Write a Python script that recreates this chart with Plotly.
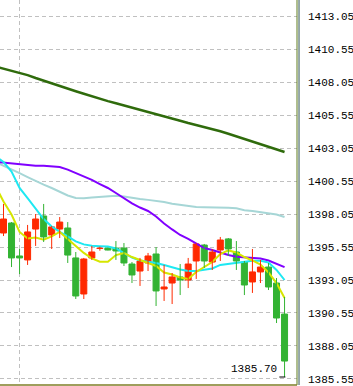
import plotly.graph_objects as go

# ---- data ----
bar_index = list(range(36))
opens = [1396.61, 1397.37, 1394.87, 1394.57, 1396.91, 1397.90, 1396.46, 1396.91, 1396.99, 1394.72,
         1391.99, 1394.72, 1395.44, 1395.47, 1395.47, 1395.47, 1394.26, 1393.73, 1394.34, 1395.02,
         1392.37, 1392.82, 1393.28, 1393.05, 1394.49, 1395.70, 1394.41, 1395.32, 1396.16, 1395.17,
         1394.41, 1392.90, 1393.66, 1394.03, 1392.82, 1390.47]
highs = [1398.81, 1397.44, 1395.40, 1397.22, 1398.05, 1398.81, 1397.14, 1397.82, 1397.44, 1395.17,
         1394.72, 1395.63, 1395.57, 1395.50, 1396.00, 1395.85, 1394.41, 1394.72, 1395.10, 1395.55,
         1394.19, 1393.58, 1394.26, 1394.72, 1395.85, 1395.78, 1395.40, 1396.31, 1396.23, 1396.00,
         1394.49, 1395.40, 1394.57, 1394.34, 1393.20, 1391.76]
lows = [1396.38, 1394.03, 1393.50, 1394.19, 1395.63, 1395.93, 1395.40, 1396.23, 1394.34, 1391.61,
        1391.61, 1394.57, 1395.27, 1395.30, 1394.57, 1394.11, 1392.82, 1392.60, 1393.73, 1391.08,
        1391.46, 1391.23, 1391.91, 1392.44, 1393.13, 1393.96, 1393.81, 1394.49, 1394.87, 1393.81,
        1391.91, 1392.07, 1392.82, 1392.29, 1389.79, 1385.70]
closes = [1397.67, 1394.72, 1394.72, 1396.69, 1397.67, 1396.31, 1397.07, 1397.44, 1394.94, 1391.84,
          1394.64, 1395.17, 1395.47, 1395.32, 1395.25, 1394.34, 1393.43, 1394.49, 1394.87, 1392.22,
          1392.52, 1393.28, 1393.05, 1394.26, 1395.78, 1394.49, 1395.17, 1396.08, 1395.40, 1394.49,
          1392.67, 1393.66, 1394.03, 1392.52, 1390.17, 1386.91]

ma_index = list(range(-1, 36))
ma_dark_green = [1409.22, 1409.07, 1408.91, 1408.76, 1408.57, 1408.35, 1408.14, 1407.94, 1407.74, 1407.54,
                 1407.35, 1407.16, 1406.96, 1406.76, 1406.60, 1406.44, 1406.28, 1406.11, 1405.94, 1405.78,
                 1405.61, 1405.45, 1405.29, 1405.11, 1404.94, 1404.79, 1404.64, 1404.49, 1404.32, 1404.13,
                 1403.93, 1403.73, 1403.54, 1403.35, 1403.15, 1402.96, 1402.75]
ma_purple = [1402.00, 1401.94, 1401.88, 1401.82, 1401.73, 1401.71, 1401.70, 1401.67, 1401.61, 1401.41,
             1401.16, 1400.88, 1400.63, 1400.32, 1400.02, 1399.64, 1399.22, 1398.85, 1398.54, 1398.28,
             1397.86, 1397.33, 1396.88, 1396.46, 1396.16, 1395.79, 1395.47, 1395.32, 1395.13, 1394.94,
             1394.81, 1394.75, 1394.74, 1394.68, 1394.53, 1394.30, 1394.03]
ma_pale = [1401.99, 1401.69, 1401.38, 1401.14, 1400.85, 1400.53, 1400.27, 1400.02, 1399.75, 1399.45,
           1399.26, 1399.24, 1399.30, 1399.36, 1399.41, 1399.43, 1399.38, 1399.26, 1399.19, 1399.12,
           1399.05, 1398.96, 1398.82, 1398.73, 1398.66, 1398.58, 1398.56, 1398.56, 1398.55, 1398.52,
           1398.48, 1398.34, 1398.28, 1398.20, 1398.13, 1398.01, 1397.82]
ma_cyan = [1402.44, 1401.99, 1401.27, 1400.02, 1399.26, 1398.47, 1397.67, 1397.10, 1396.69, 1396.35,
           1395.97, 1395.75, 1395.64, 1395.61, 1395.59, 1395.44, 1395.10, 1394.75, 1394.53, 1394.44,
           1394.34, 1394.19, 1394.00, 1393.85, 1393.73, 1393.73, 1393.82, 1393.92, 1394.19, 1394.28,
           1394.38, 1394.47, 1394.51, 1394.50, 1394.38, 1393.81, 1393.05]
ma_yellow = [1400.17, 1399.00, 1398.01, 1396.69, 1396.19, 1396.27, 1396.10, 1396.35, 1396.69, 1396.19,
             1395.63, 1395.10, 1394.68, 1394.44, 1394.44, 1394.94, 1395.10, 1394.79, 1394.57, 1394.38,
             1394.11, 1393.62, 1393.47, 1393.24, 1393.13, 1393.66, 1394.03, 1394.41, 1395.02, 1395.29,
             1395.13, 1394.79, 1394.53, 1394.22, 1393.62, 1392.82, 1391.69]

tick_values = [1385.55, 1388.05, 1390.55, 1393.05, 1395.55, 1398.05, 1400.55, 1403.05,
               1405.55, 1408.05, 1410.55, 1413.05]
tick_labels = ["1385.55", "1388.05", "1390.55", "1393.05", "1395.55", "1398.05", "1400.55",
               "1403.05", "1405.55", "1408.05", "1410.55", "1413.05"]
low_label = "1385.70"

UP = "#ff2a00"
DOWN = "#33b333"

# ---- figure ----
fig = go.Figure()

ma_styles = [
    (ma_dark_green, "#2f6b0c", 2.5),
    (ma_pale, "#a6d6d6", 2),
    (ma_purple, "#8000ff", 2),
    (ma_cyan, "#1ee8f2", 2),
    (ma_yellow, "#d6e600", 2),
]
for vals, col, w in ma_styles:
    fig.add_trace(go.Scatter(x=ma_index, y=vals, mode="lines",
                             line=dict(color=col, width=w), hoverinfo="skip",
                             showlegend=False))

# candles: wicks (scatter segments) then bodies (bars with base)
for is_up, col in ((True, UP), (False, DOWN)):
    idx = [i for i in bar_index if (closes[i] > opens[i]) == is_up]
    wx, wy = [], []
    for i in idx:
        wx += [i, i, None]
        wy += [lows[i], highs[i], None]
    fig.add_trace(go.Scatter(x=wx, y=wy, mode="lines", line=dict(color=col, width=1),
                             hoverinfo="skip", showlegend=False))
for is_up, col in ((True, UP), (False, DOWN)):
    idx = [i for i in bar_index if (closes[i] > opens[i]) == is_up]
    fig.add_trace(go.Bar(
        x=idx,
        base=[min(opens[i], closes[i]) for i in idx],
        y=[abs(closes[i] - opens[i]) for i in idx],
        width=0.75,
        marker=dict(color=col, line=dict(color=col, width=1)),
        hoverinfo="skip", showlegend=False))

last = bar_index[-1]
low_val = lows[-1]
fig.add_shape(type="line", xref="x", yref="y", x0=last - 0.65, x1=last + 0.1,
              y0=low_val, y1=low_val, line=dict(color="black", width=1))
fig.add_annotation(x=last, y=low_val, xref="x", yref="y", text=low_label,
                   showarrow=False, xanchor="right", yanchor="bottom",
                   xshift=-6, yshift=0,
                   font=dict(family="Liberation Mono", size=11, color="black"))

# frame lines
fig.add_shape(type="line", xref="paper", yref="paper", x0=1, x1=1, y0=0, y1=1.01,
              line=dict(color="#5e7d1e", width=1))
fig.add_shape(type="line", xref="paper", yref="paper", x0=1.0068, x1=1.0068, y0=0, y1=1.01,
              line=dict(color="#2f5454", width=1))
fig.add_shape(type="line", xref="paper", yref="paper", x0=0, x1=1, y0=0, y1=0,
              line=dict(color="#7e7e26", width=1.5))

fig.update_layout(
    width=353, height=386,
    margin=dict(l=0, r=56, t=0, b=1),
    paper_bgcolor="white", plot_bgcolor="white",
    barmode="overlay",
    showlegend=False,
    xaxis=dict(range=[-0.436, 36.55],
               tickvals=[2], showticklabels=False, ticks="",
               showgrid=True, gridcolor="#c0c0c0", griddash="4px,3px", gridwidth=1,
               zeroline=False, showline=False),
    yaxis=dict(side="right", range=[1385.095, 1414.262],
               tickvals=tick_values, ticktext=tick_labels, ticks="",
               ticklabelstandoff=10,
               tickfont=dict(family="Liberation Mono", size=11, color="black"),
               showgrid=True, gridcolor="#c0c0c0", griddash="4px,3px", gridwidth=1,
               zeroline=False, showline=False),
)

fig.write_html("out.html")
